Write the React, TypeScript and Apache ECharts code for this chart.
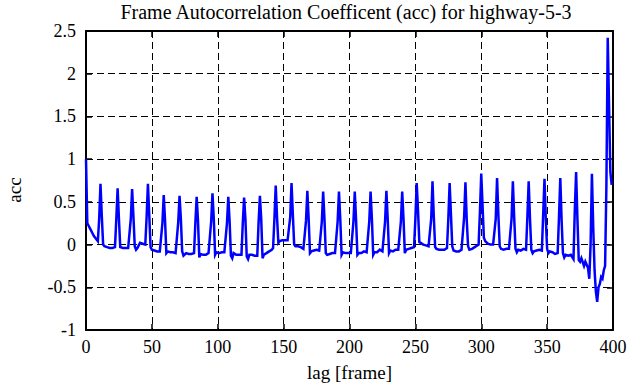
import React, { useEffect, useRef } from "react";
import * as echarts from "echarts";

const chartTitle = "Frame Autocorrelation Coefficent (acc) for highway-5-3";
const xAxisName = "lag [frame]";
const yAxisName = "acc";

// lag [frame] and autocorrelation values
const lags = [
  0, 1, 2, 3, 4, 5, 6, 7, 8, 9, 10, 11, 12, 13, 14, 16, 18, 20, 22, 23, 24, 25, 26, 28, 30, 32, 34, 35, 36, 37, 38, 39,
  41, 43, 45, 46, 47, 48, 49, 50, 52, 54, 56, 58, 59, 60, 61, 62, 64, 66, 68, 70, 71, 72, 73, 74, 76, 78, 80, 82, 83,
  84, 85, 86, 87, 89, 91, 93, 95, 96, 97, 98, 99, 101, 103, 105, 107, 108, 109, 110, 111, 112, 114, 116, 118, 119, 120,
  121, 122, 123, 124, 126, 128, 130, 131, 132, 133, 134, 135, 137, 139, 141, 142, 143, 144, 145, 146, 147, 149, 151,
  153, 155, 156, 157, 158, 159, 161, 163, 165, 167, 168, 169, 170, 171, 173, 175, 177, 179, 180, 181, 182, 183, 185,
  187, 189, 191, 192, 193, 194, 195, 197, 199, 201, 203, 204, 205, 206, 207, 209, 211, 213, 215, 216, 217, 218, 219,
  221, 223, 225, 227, 228, 229, 230, 231, 233, 235, 237, 239, 240, 241, 242, 243, 245, 247, 249, 250, 251, 252, 253,
  254, 256, 258, 260, 262, 263, 264, 265, 266, 268, 270, 272, 274, 275, 276, 277, 278, 279, 281, 283, 285, 287, 288,
  289, 290, 291, 293, 295, 297, 298, 299, 300, 301, 302, 303, 305, 307, 309, 311, 312, 313, 314, 315, 317, 319, 321,
  323, 324, 325, 326, 327, 328, 330, 332, 334, 335, 336, 337, 338, 339, 340, 342, 344, 346, 347, 348, 349, 350, 351,
  352, 354, 356, 358, 359, 360, 361, 362, 363, 364, 366, 368, 370, 371, 372, 373, 374, 375, 376, 378, 379, 381, 382,
  383, 384, 385, 386, 387, 388, 389, 390, 391, 392, 393, 394, 395, 396, 397, 398, 399
];

const acc = [
  1.0, 0.25, 0.22, 0.19, 0.16, 0.13, 0.1, 0.08, 0.06, 0.04, 0.3, 0.71, 0.33, 0.0, -0.02, -0.03, -0.04, -0.04, -0.03, 0.3,
  0.66, 0.3, -0.03, -0.04, -0.04, -0.04, 0.3, 0.65, 0.33, -0.02, -0.06, -0.04,
  0.02, 0.01, 0.0, 0.32, 0.71, 0.35, -0.03, -0.06, -0.07, -0.08, -0.08, 0.25, 0.58, 0.28, -0.1, -0.08, -0.09, -0.09,
  -0.1, 0.26, 0.57, 0.3, -0.08, -0.13, -0.1, -0.11, -0.11, -0.1, 0.25,
  0.56, 0.28, -0.15, -0.11, -0.12, -0.12, -0.1, 0.27, 0.6, 0.3, -0.12, -0.09, -0.1, -0.09, -0.09, 0.25, 0.56, 0.27,
  -0.13, -0.16, -0.1, -0.12, -0.12, -0.12, 0.25, 0.55,
  0.3, -0.14, -0.17, -0.12, -0.12, -0.13, -0.13, 0.26, 0.57, 0.3, -0.16, -0.12, -0.1, -0.08, -0.06, -0.04, 0.3, 0.69,
  0.32, 0.02, 0.04, 0.05, 0.05,
  0.05, 0.32, 0.72, 0.35, 0.0, -0.02, -0.02, -0.03, -0.05, 0.28, 0.63, 0.3, -0.1, -0.08, -0.07, -0.06, -0.07, 0.27, 0.62,
  0.3, -0.1, -0.12, -0.11,
  -0.1, -0.1, 0.27, 0.62, 0.3, -0.12, -0.09, -0.1, -0.1, -0.1, 0.27, 0.62, 0.28, -0.12, -0.1, -0.1, -0.08, -0.09, 0.27,
  0.62, 0.3, -0.12, -0.09,
  -0.09, -0.06, -0.08, 0.27, 0.63, 0.3, -0.1, -0.07, -0.08, -0.06, -0.06, 0.27, 0.62, 0.3, -0.1, -0.06, -0.05, -0.04,
  -0.03, 0.3, 0.72, 0.4, 0.03,
  0.02, 0.0, -0.01, -0.02, 0.3, 0.74, 0.32, -0.03, -0.05, -0.06, -0.06, -0.06, -0.04, 0.3, 0.72, 0.35, -0.02, -0.07,
  -0.08, -0.08, -0.06, 0.32, 0.73,
  0.28, -0.02, -0.06, -0.05, -0.03, -0.01, 0.0, 0.38, 0.83, 0.45, 0.08, 0.04, 0.01, 0.0, 0.0, 0.3, 0.78, 0.35, -0.02,
  -0.05, -0.06, -0.05, -0.05,
  0.3, 0.74, 0.32, -0.05, -0.09, -0.06, -0.07, -0.05, -0.06, 0.32, 0.74, 0.3, -0.06, -0.1, -0.08, -0.07, -0.06, -0.07,
  0.35, 0.77, 0.3, -0.05, -0.1,
  -0.08, -0.09, -0.11, -0.1, 0.32, 0.78, 0.28, -0.1, -0.15, -0.12, -0.13, -0.12, -0.17, 0.4, 0.85, 0.3, -0.18, -0.2,
  -0.16, -0.25, -0.2, -0.27, -0.4,
  0.0, 0.83, 0.2, -0.3, -0.55, -0.67, -0.5, -0.46, -0.38, -0.4, -0.3, -0.25, 0.7, 2.42, 1.63, 0.85, 0.7
];

const xMin = 0;
const xMax = 400;
const xStep = 50;
const yMin = -1;
const yMax = 2.5;
const yStep = 0.5;

export default function App() {
  const ref = useRef<HTMLDivElement>(null);

  useEffect(() => {
    if (!ref.current) return;
    const chart = echarts.init(ref.current, null, { renderer: "svg" });
    const font = '"Liberation Serif", "Times New Roman", serif';
    const axisLine = { show: true, onZero: false, lineStyle: { color: "#000", width: 2 } };
    const axisTick = { show: true, inside: true, length: 6, lineStyle: { color: "#000", width: 1.5 } };
    const splitLine = { show: true, lineStyle: { color: "#000", width: 1, type: [7, 4] } };
    const label = { color: "#000", fontFamily: font, fontSize: 18 };
    const nameStyle = { color: "#000", fontFamily: font, fontSize: 19 };

    chart.setOption({
      animation: false,
      graphic: [
        {
          type: "text",
          x: 346,
          y: 12,
          style: {
            text: chartTitle,
            fill: "#000",
            font: `20px ${font}`,
            align: "center",
            verticalAlign: "middle",
          },
        },
        {
          type: "text",
          x: 14,
          y: 190,
          rotation: Math.PI / 2,
          style: {
            text: yAxisName,
            fill: "#000",
            font: `19px ${font}`,
            align: "center",
            verticalAlign: "middle",
          },
        },
      ],
      grid: { left: 86, right: 17, top: 31, bottom: 56, containLabel: false },
      xAxis: [
        {
          type: "value",
          position: "bottom",
          min: xMin,
          max: xMax,
          interval: xStep,
          name: xAxisName,
          nameLocation: "middle",
          nameGap: 33,
          nameTextStyle: nameStyle,
          axisLine,
          axisTick,
          axisLabel: { ...label, margin: 8 },
          splitLine,
        },
        {
          type: "value",
          position: "top",
          min: xMin,
          max: xMax,
          interval: xStep,
          axisLine,
          axisTick,
          axisLabel: { show: false },
          splitLine: { show: false },
        },
      ],
      yAxis: [
        {
          type: "value",
          position: "left",
          min: yMin,
          max: yMax,
          interval: yStep,
          axisLine,
          axisTick,
          axisLabel: { ...label, margin: 10 },
          splitLine,
        },
        {
          type: "value",
          position: "right",
          min: yMin,
          max: yMax,
          interval: yStep,
          axisLine,
          axisTick,
          axisLabel: { show: false },
          splitLine: { show: false },
        },
      ],
      series: [
        {
          type: "line",
          xAxisIndex: 0,
          yAxisIndex: 0,
          data: lags.map((l, i) => [l, acc[i]]),
          symbol: "none",
          showSymbol: false,
          lineStyle: { color: "#0000ff", width: 2.5, join: "miter" },
          itemStyle: { color: "#0000ff" },
          z: 3,
        },
      ],
    });
    return () => chart.dispose();
  }, []);

  return (
    <div
      ref={ref}
      style={{ position: "fixed", left: 0, top: 0, width: 630, height: 387, background: "#fff" }}
    />
  );
}
